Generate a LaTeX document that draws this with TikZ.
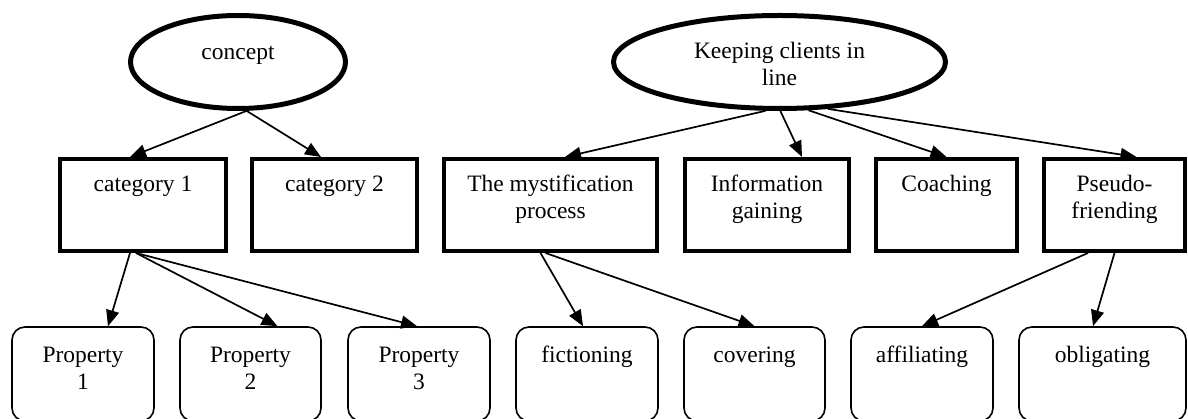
\documentclass[tikz,border=0pt]{standalone}
\usepackage{fontspec}
\setmainfont{Liberation Serif}
\usetikzlibrary{shapes.geometric,arrows.meta}
\newcommand{\BoxTxt}[4]{\parbox[c][#2][t]{#1}{\centering\rule{0pt}{#3}#4}}
\begin{document}
\begin{tikzpicture}[x=1pt,y=-1pt,
  font=\fontsize{23.5pt}{26.5pt}\selectfont,
  ell/.style={ellipse, draw, line width=5pt, inner sep=0pt},
  catbox/.style={draw, line width=4pt, inner sep=0pt},
  propbox/.style={draw, line width=1.6pt, rounded corners=13pt, inner sep=0pt},
  arr/.style={-{Triangle[length=16pt,width=13pt]}, line width=1.7pt}]
\useasboundingbox (0,0) rectangle (1188,419);
% top level
\node[ell, minimum width=215pt, minimum height=93pt, text height=8pt, text depth=12pt] (concept) at (238,62) {\parbox[t]{100pt}{\centering concept}};
\node[ell, minimum width=332pt, minimum height=93pt, text height=8pt, text depth=14pt] (keep) at (779.5,62) {\parbox[t]{200pt}{\centering Keeping clients in\\line}};
% categories
\node[catbox] (cat1) at (143,205) {\BoxTxt{166pt}{92pt}{33pt}{category 1}};
\node[catbox] (cat2) at (334.5,205) {\BoxTxt{165pt}{92pt}{33pt}{category 2}};
\node[catbox] (myst) at (550.5,205) {\BoxTxt{213pt}{92pt}{33pt}{The mystification\\process}};
\node[catbox] (info) at (767,205) {\BoxTxt{164pt}{92pt}{33pt}{Information\\gaining}};
\node[catbox] (coach) at (946.5,205) {\BoxTxt{141pt}{92pt}{33pt}{Coaching}};
\node[catbox] (pseudo) at (1114.5,205) {\BoxTxt{141pt}{92pt}{33pt}{Pseudo-\\friending}};
% properties
\node[propbox] (p1) at (83,374) {\BoxTxt{142pt}{94pt}{36pt}{Property\\1}};
\node[propbox] (p2) at (250.5,374) {\BoxTxt{141pt}{94pt}{36pt}{Property\\2}};
\node[propbox] (p3) at (419,374) {\BoxTxt{142pt}{94pt}{36pt}{Property\\3}};
\node[propbox] (fict) at (587,374) {\BoxTxt{142pt}{94pt}{36pt}{fictioning}};
\node[propbox] (cover) at (754.5,374) {\BoxTxt{141pt}{94pt}{36pt}{covering}};
\node[propbox] (affil) at (922,374) {\BoxTxt{142pt}{94pt}{36pt}{affiliating}};
\node[propbox] (oblig) at (1102.5,374) {\BoxTxt{167pt}{94pt}{36pt}{obligating}};
% connectors
\draw[arr] (concept.-80) -- ([xshift=-13pt]cat1.north);
\draw[arr] (concept.-80) -- ([xshift=-13.5pt]cat2.north);
\draw[arr] (keep.-106) -- ([xshift=14.5pt]myst.north);
\draw[arr] (keep.-89) -- ([xshift=35pt]info.north);
\draw[arr] (keep.-59) -- ([xshift=0pt]coach.north);
\draw[arr] (keep.-44) -- ([xshift=22pt]pseudo.north);
\draw[arr] ([xshift=-13pt]cat1.south) -- ([xshift=25pt]p1.north);
\draw[arr] ([xshift=-7pt]cat1.south) -- ([xshift=27pt]p2.north);
\draw[arr] ([xshift=-7pt]cat1.south) -- ([xshift=-2pt]p3.north);
\draw[arr] ([xshift=-10pt]myst.south) -- ([xshift=-4pt]fict.north);
\draw[arr] ([xshift=-5pt]myst.south) -- ([xshift=0pt]cover.north);
\draw[arr] ([xshift=-26.5pt]pseudo.south) -- ([xshift=0pt]affil.north);
\draw[arr] ([xshift=0pt]pseudo.south) -- ([xshift=-9.5pt]oblig.north);
\end{tikzpicture}
\end{document}
